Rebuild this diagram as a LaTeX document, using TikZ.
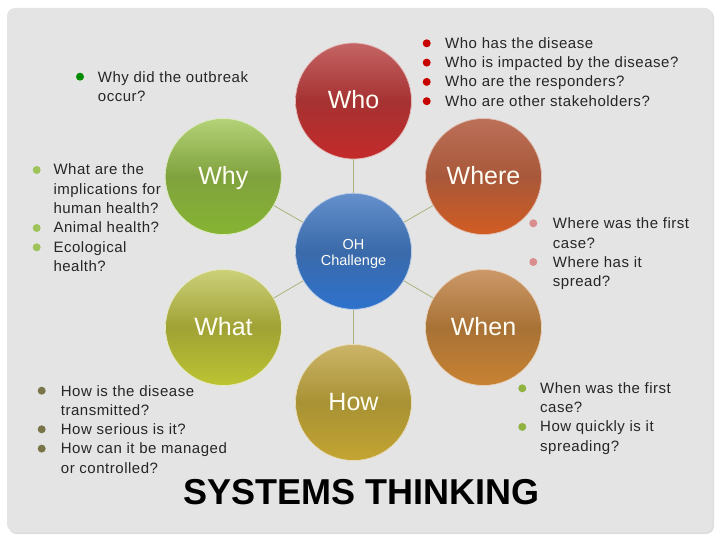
\documentclass[tikz,border=0pt]{standalone}
\usepackage{fontspec}
\setmainfont{Liberation Sans}
\newfontfamily\spacedfont[LetterSpace=3.5]{Liberation Sans}
\definecolor{whoT}{HTML}{C46464}\definecolor{whoM}{HTML}{A63232}\definecolor{whoB}{HTML}{C42A2A}
\definecolor{whyT}{HTML}{B4D278}\definecolor{whyM}{HTML}{80A23E}\definecolor{whyB}{HTML}{86B432}
\definecolor{wheT}{HTML}{BC7058}\definecolor{wheM}{HTML}{A8583A}\definecolor{wheB}{HTML}{D25C22}
\definecolor{ohT}{HTML}{6490CC}\definecolor{ohM}{HTML}{3A6AAA}\definecolor{ohB}{HTML}{2E72CC}
\definecolor{whaT}{HTML}{CCD07A}\definecolor{whaM}{HTML}{A0A234}\definecolor{whaB}{HTML}{BCC432}
\definecolor{howT}{HTML}{CCB468}\definecolor{howM}{HTML}{A89234}\definecolor{howB}{HTML}{C4A432}
\definecolor{wenT}{HTML}{CC9868}\definecolor{wenM}{HTML}{A87236}\definecolor{wenB}{HTML}{C88232}
\definecolor{bgc}{HTML}{E4E4E4}
\definecolor{spk}{HTML}{A8B47C}
\begin{document}
\begin{tikzpicture}[x=1pt,y=-1pt,
  bul/.style={circle, inner sep=0pt, minimum size=8pt, fill=#1},
  ln/.style={anchor=base west, inner sep=0pt, font=\spacedfont\fontsize{15}{17}\selectfont, text=black!85},
  ball/.style n args={3}{circle, minimum size=116pt, inner sep=0pt, top color=#1, bottom color=#3, middle color=#2, draw=white!55!#1, line width=0.7pt},
  lab/.style={anchor=base, inner sep=0pt, font=\fontsize{25}{28}\selectfont, text=white!96!yellow},
  spoke/.style={draw=spk, line width=0.8pt}]
\useasboundingbox (0,0) rectangle (720,540);
\fill[white] (0,0) rectangle (720,540);
\fill[black!13, rounded corners=8pt] (8.5,9.5) rectangle (714,534);
\fill[bgc, rounded corners=8pt] (7,8) rectangle (712.5,532);

% circles
\node[ball={whoT}{whoM}{whoB}] (who) at (353.5,101) {};
\node[ball={whyT}{whyM}{whyB}] (why) at (223.3,176.5) {};
\node[ball={wheT}{wheM}{wheB}] (where) at (483.5,176.5) {};
\node[ball={ohT}{ohM}{ohB}] (oh) at (353.5,251.3) {};
\node[ball={whaT}{whaM}{whaB}] (what) at (223.5,327.5) {};
\node[ball={wenT}{wenM}{wenB}] (when) at (483.5,327.5) {};
\node[ball={howT}{howM}{howB}] (how) at (353.5,402.5) {};

% spokes
\draw[spoke] (oh) -- (who);
\draw[spoke] (oh) -- (why);
\draw[spoke] (oh) -- (where);
\draw[spoke] (oh) -- (what);
\draw[spoke] (oh) -- (when);
\draw[spoke] (oh) -- (how);

% labels
\node[lab] (whoL) at (353.5,108.7) {Who};
\node[lab] (whyL) at (223.3,184.4) {Why};
\node[lab] (whereL) at (483.5,184.4) {Where};
\node[lab] (whatL) at (223.5,335.2) {What};
\node[lab] (whenL) at (483.5,335.2) {When};
\node[lab] (howL) at (353.5,410.2) {How};
\node[anchor=base, inner sep=0pt, font=\fontsize{14.5}{15.7}\selectfont, text=white!96!yellow, align=center] (ohL) at (353.5,265) {OH\\Challenge};

% Why did list
\node[bul={green!55!black}] (b1) at (80,76.7) {};
\node[ln] (t1a) at (97.7,82.3) {Why did the outbreak};
\node[ln] (t1b) at (97.7,101.6) {occur?};

% Who list
\node[bul={red!78!black}] (b2a) at (426.7,43.3) {};
\node[bul={red!78!black}] (b2b) at (426.7,62.6) {};
\node[bul={red!78!black}] (b2c) at (426.7,81.9) {};
\node[bul={red!78!black}] (b2d) at (426.7,101.2) {};
\node[ln] (t2a) at (445,48.3) {Who has the disease};
\node[ln] (t2b) at (445,67.6) {Who is impacted by the disease?};
\node[ln] (t2c) at (445,86.9) {Who are the responders?};
\node[ln] (t2d) at (445,106.2) {Who are other stakeholders?};

% Why list
\node[bul={whyB!80!white}] (b3a) at (36.7,170) {};
\node[bul={whyB!80!white}] (b3b) at (36.7,228) {};
\node[bul={whyB!80!white}] (b3c) at (36.7,247.3) {};
\node[ln] (t3a) at (53.3,175) {What are the};
\node[ln] (t3b) at (53.3,194.3) {implications for};
\node[ln] (t3c) at (53.3,213.6) {human health?};
\node[ln] (t3d) at (53.3,232.9) {Animal health?};
\node[ln] (t3e) at (53.3,252.2) {Ecological};
\node[ln] (t3f) at (53.3,271.5) {health?};

% Where list
\node[bul={red!35!white!85!black}] (b4a) at (533.3,223.3) {};
\node[bul={red!35!white!85!black}] (b4b) at (533.3,262) {};
\node[ln] (t4a) at (552.7,229) {Where was the first};
\node[ln] (t4b) at (552.7,248.3) {case?};
\node[ln] (t4c) at (552.7,267.6) {Where has it};
\node[ln] (t4d) at (552.7,286.9) {spread?};

% How list
\node[bul={olive!50!black!80!white}] (b5a) at (41.7,390.7) {};
\node[bul={olive!50!black!80!white}] (b5b) at (41.7,429.3) {};
\node[bul={olive!50!black!80!white}] (b5c) at (41.7,448.6) {};
\node[ln] (t5a) at (60.7,396) {How is the disease};
\node[ln] (t5b) at (60.7,415.3) {transmitted?};
\node[ln] (t5c) at (60.7,434.6) {How serious is it?};
\node[ln] (t5d) at (60.7,453.9) {How can it be managed};
\node[ln] (t5e) at (60.7,473.2) {or controlled?};

% When list
\node[bul={olive!60!green!75!white}] (b6a) at (522.3,388.3) {};
\node[bul={olive!60!green!75!white}] (b6b) at (522.3,426.9) {};
\node[ln] (t6a) at (540,393.3) {When was the first};
\node[ln] (t6b) at (540,412.6) {case?};
\node[ln] (t6c) at (540,431.9) {How quickly is it};
\node[ln] (t6d) at (540,451.2) {spreading?};

% title
\node[anchor=base west, inner sep=0pt, font=\fontsize{36}{40}\selectfont\bfseries] (title) at (183.3,504) {SYSTEMS THINKING};
\end{tikzpicture}
\end{document}
